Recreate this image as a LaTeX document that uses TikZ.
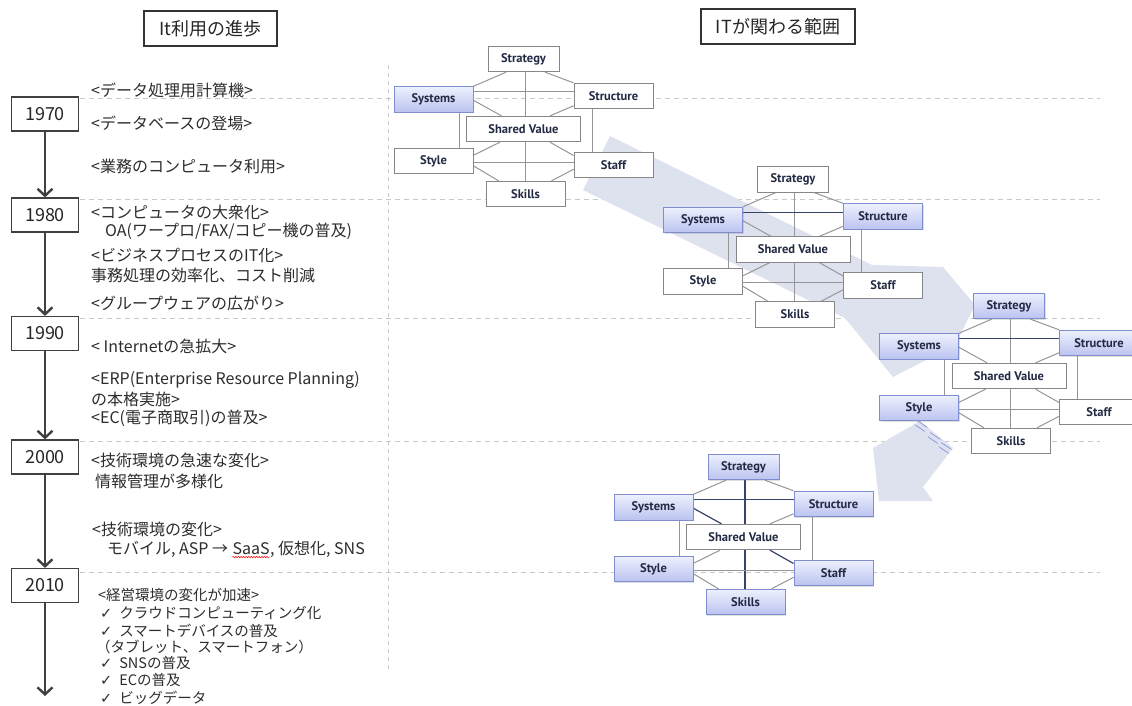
\documentclass[tikz,border=0pt]{standalone}
\usepackage{fontspec}
\setmainfont{Noto Sans CJK JP}
\newfontfamily\labfont{PT Sans}
\newfontfamily\symfont{DejaVu Sans}
\usetikzlibrary{arrows.meta,calc,shadows,decorations.pathmorphing}
\pgfdeclarelayer{bg}
\pgfdeclarelayer{web}
\pgfsetlayers{bg,web,main}
\definecolor{txt}{RGB}{45,45,45}
\definecolor{dashc}{RGB}{200,200,200}
\definecolor{arr}{RGB}{222,226,238}
\definecolor{hlA}{RGB}{238,240,253}
\definecolor{hlB}{RGB}{186,195,240}
\definecolor{hlborder}{RGB}{128,142,208}
\definecolor{plborder}{RGB}{135,135,135}
\definecolor{webgray}{RGB}{150,150,150}
\definecolor{webdark}{RGB}{55,68,105}
\definecolor{navy}{RGB}{35,42,68}
\definecolor{dashblue}{RGB}{135,150,222}

\newcommand\resetsev{\tikzset{bst/.style={},bsy/.style={},bsr/.style={},bsv/.style={},bsl/.style={},bsf/.style={},bsk/.style={},
 lnA/.style={},lnB/.style={},lnC/.style={},lnD/.style={},lnE/.style={},lnF/.style={},lnG/.style={},lnH/.style={},lnI/.style={},lnJ/.style={},lnK/.style={},lnL/.style={},lnM/.style={}}}

\newcommand\sevens[2]{%
\begin{scope}[shift={#2}]
\node[sbox,bst,minimum width=71pt] (#1st) at (0,0) {Strategy};
\node[sbox,bsy] (#1sy) at (-90,40.5) {Systems};
\node[sbox,bsr] (#1sr) at (90,37) {Structure};
\node[sbox,bsv,minimum width=114pt] (#1sv) at (0,70) {Shared Value};
\node[sbox,bsl] (#1sl) at (-90,102) {Style};
\node[sbox,bsf] (#1sf) at (90,106) {Staff};
\node[sbox,bsk] (#1sk) at (2,135) {Skills};
\end{scope}
\begin{pgfonlayer}{web}
\draw[wl,lnA] ($(#1st.south)+(-17.5,0)$) -- (#1sy.north east);
\draw[wl,lnB] ($(#1st.south)+(21.5,0)$) -- (#1sr.north west);
\draw[wl,lnC] ($(#1st.south)+(1.5,0)$) -- ($(#1sk.north)+(-0.5,0)$);
\draw[wl,lnD] ($(#1sy.north east)+(0,5.5)$) coordinate (#1p4) -- (#1p4 -| #1sr.west);
\draw[wl,lnE] ($(#1sy.north east)+(0,14)$) -- ($(#1sv.north)+(-22,0)$);
\draw[wl,lnF] ($(#1sr.north west)+(0,23)$) -- ($(#1sv.north)+(26.5,0)$);
\draw[wl,lnG] ($(#1sy.south)+(25.5,0)$) -- ($(#1sl.north)+(25.5,0)$);
\draw[wl,lnH] ($(#1sr.south)+(-21.2,0)$) -- ($(#1sf.north)+(-21.2,0)$);
\draw[wl,lnI] ($(#1sv.south)+(-23.5,0)$) -- ($(#1sl.north east)+(0,7.5)$);
\draw[wl,lnJ] ($(#1sv.south)+(26.5,0)$) -- ($(#1sf.north west)+(0,3.7)$);
\draw[wl,lnK] ($(#1sl.north east)+(0,14.5)$) coordinate (#1p11) -- (#1p11 -| #1sf.west);
\draw[wl,lnL] ($(#1sl.north east)+(0,18)$) -- ($(#1sk.north)+(-27,0)$);
\draw[wl,lnM] ($(#1sf.north west)+(0,17.5)$) -- ($(#1sk.north)+(26,0)$);
\end{pgfonlayer}}

\begin{document}
\begin{tikzpicture}[x=1pt,y=-1pt,
 sbox/.style={draw=plborder, fill=white, line width=0.9pt, minimum width=79pt, minimum height=25.5pt, inner sep=0pt,
   font=\labfont\bfseries\fontsize{12.5}{13}\selectfont, text=navy},
 hl/.style={draw=hlborder, top color=hlA, bottom color=hlB, drop shadow={opacity=0.25,shadow xshift=1.2pt,shadow yshift=-1.2pt}},
 wl/.style={draw=webgray, line width=1pt},
 wd/.style={draw=webdark, line width=1.2pt},
 dl/.style={draw=dashc, line width=1pt, dash pattern=on 5pt off 4pt},
 tl/.style={anchor=west, inner sep=0pt, text=txt, font=\fontsize{16}{17}\selectfont},
 ts/.style={anchor=west, inner sep=0pt, text=txt, font=\fontsize{14.5}{16}\selectfont},
 yb/.style={draw=black!75, line width=1.2pt, minimum width=67pt, minimum height=34pt, inner sep=0pt, text=black!85,
   font=\fontsize{18}{20}\selectfont},
 tb/.style={draw=black!80, line width=1.2pt, minimum height=35pt, inner sep=0pt, text=black!85, font=\fontsize{18}{20}\selectfont},
 ya/.style={draw=black!75, line width=1.4pt, -{Straight Barb[length=7pt,width=15pt,line width=2.4pt]}},
 ab/.style={fill=arr, draw=none}
]
\useasboundingbox (0,0) rectangle (1132,705);

% titles
\node[tb,minimum width=133pt] (title1) at (210.5,28.5) {It利用の進歩};
\node[tb,minimum width=154pt] (title2) at (778,26.5) {ITが関わる範囲};

% dashed guide lines and arrows
\begin{pgfonlayer}{bg}
\fill[white] (0,0) rectangle (1132,705);
\draw[dl] (80,98.5) coordinate (h1a) -- (1100,98.5) coordinate (h1b);
\draw[dl] (80,199) coordinate (h2a) -- (1100,199) coordinate (h2b);
\draw[dl] (80,318) coordinate (h3a) -- (1100,318) coordinate (h3b);
\draw[dl] (80,441) coordinate (h4a) -- (1100,441) coordinate (h4b);
\draw[dl] (80,572) coordinate (h5a) -- (1100,572) coordinate (h5b);
\draw[dl, dash pattern=on 4pt off 4pt] (388,65) coordinate (va) -- (388,672) coordinate (vb);
\fill[ab] (610,136) -- (872,265) -- (943,267) -- (975,305) -- (955,345) -- (893,377) -- (845,318) -- (583,190) -- cycle;
\fill[ab] (920,421) -- (873,448) -- (879,501) -- (933,501) -- (923,487) -- (953,448) -- cycle;
\foreach \cx/\cy in {921/426, 934/438, 945/448}{
  \foreach \k in {-1,1}{
    \draw[dashblue, line width=0.7pt] ($(\cx,\cy)+(-5,-3.4)+(-1.3*\k,2*\k)$) -- ($(\cx,\cy)+(5,3.4)+(-1.3*\k,2*\k)$);
  }
}
\end{pgfonlayer}

% timeline
\node[yb] (y1970) at (45,114) {1970};
\node[yb] (y1980) at (45,215) {1980};
\node[yb] (y1990) at (45,333.5) {1990};
\node[yb] (y2000) at (45,457) {2000};
\node[yb] (y2010) at (45,585.5) {2010};
\coordinate (yend) at (45,696);
\draw[ya] (y1970) -- (y1980);
\draw[ya] (y1980) -- (y1990);
\draw[ya] (y1990) -- (y2000);
\draw[ya] (y2000) -- (y2010);
\draw[ya] (y2010) -- (yend);

\node[tl] (t1) at (91,90) {<データ処理用計算機>};
\node[tl] (t2) at (91,123) {<データベースの登場>};
\node[tl] (t3) at (91,166) {<業務のコンピュータ利用>};
\node[tl] (t4) at (91,212) {<コンピュータの大衆化>};
\node[tl] (t5) at (105,231) {OA(ワープロ/FAX/コピー機の普及)};
\node[tl] (t6) at (91,255) {<ビジネスプロセスのIT化>};
\node[tl] (t7) at (91,275) {事務処理の効率化、コスト削減};
\node[tl] (t8) at (91,303) {<グループウェアの広がり>};
\node[tl] (t9) at (91,346) {< Internetの急拡大>};
\node[tl] (t10) at (91,380) {<ERP(Enterprise Resource Planning)};
\node[tl] (t11) at (91,399) {の本格実施>};
\node[tl] (t12) at (91,418) {<EC(電子商取引)の普及>};
\node[tl] (t13) at (91,460) {<技術環境の急速な変化>};
\node[tl] (t14) at (95,481) {情報管理が多様化};
\node[tl] (t15) at (92,529) {<技術環境の変化>};
\node[tl] (t16a) at (107,549) {モバイル, ASP → };
\node[tl,anchor=base west] (t16b) at ($(t16a.base east)+(4,0)$) {SaaS};
\node[tl,anchor=base west] (t16c) at (t16b.base east) {, 仮想化, SNS};
\draw[red, line width=0.5pt, decorate, decoration={snake,amplitude=0.7pt,segment length=2.6pt}]
  ($(t16b.base west)+(0,3)$) -- ($(t16b.base east)+(0,3)$);

\node[ts] (t17) at (98,595) {<経営環境の変化が加速>};
\node[ts] (t18) at (100,613) {{\symfont ✓}\hspace{7pt}クラウドコンピューティング化};
\node[ts] (t19) at (100,631) {{\symfont ✓}\hspace{7pt}スマートデバイスの普及};
\node[ts] (t20) at (96,647) {（タブレット、スマートフォン）};
\node[ts] (t21) at (100,663) {{\symfont ✓}\hspace{7pt}SNSの普及};
\node[ts] (t22) at (100,680) {{\symfont ✓}\hspace{7pt}ECの普及};
\node[ts] (t23) at (100,698) {{\symfont ✓}\hspace{7pt}ビッグデータ};

% 7S diagrams
\resetsev
\tikzset{bsy/.style={hl}}
\sevens{a}{(523.5,59)}

\resetsev
\tikzset{bsy/.style={hl}, bsr/.style={hl}, lnD/.style={wd}}
\sevens{b}{(793,179.5)}

\resetsev
\tikzset{bst/.style={hl}, bsy/.style={hl}, bsr/.style={hl}, bsl/.style={hl}, lnD/.style={wd}}
\sevens{c}{(1009,306)}

\resetsev
\tikzset{bst/.style={hl}, bsy/.style={hl}, bsr/.style={hl}, bsl/.style={hl}, bsf/.style={hl}, bsk/.style={hl},
  lnC/.style={wd}, lnD/.style={wd}, lnE/.style={wd}, lnJ/.style={wd}}
\sevens{d}{(743.5,467)}
\end{tikzpicture}
\end{document}
